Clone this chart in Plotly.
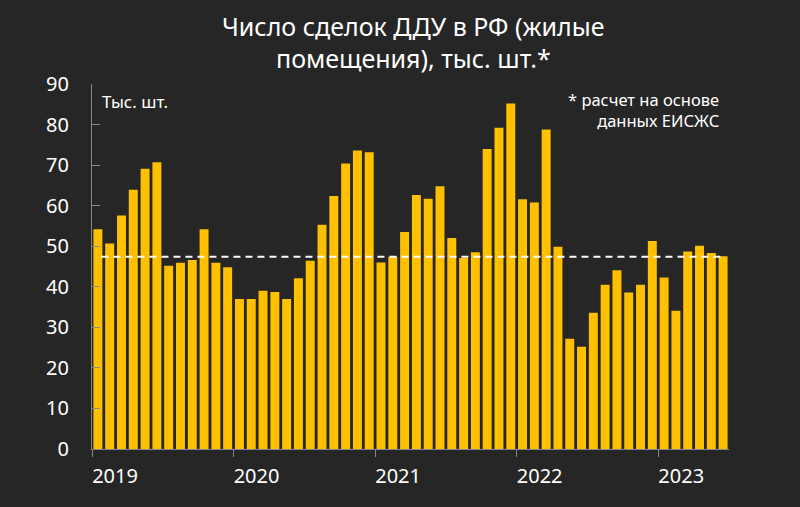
import plotly.graph_objects as go

months = list(range(54))
values = [54.2, 50.7, 57.6, 63.9, 69.1, 70.7, 45.2, 45.9, 46.6, 54.2, 45.9, 44.8,
          37.0, 37.0, 39.0, 38.7, 37.0, 42.1, 46.4, 55.3, 62.4, 70.4, 73.6, 73.2,
          46.0, 47.4, 53.5, 62.6, 61.7, 64.8, 52.0, 47.1, 48.5, 74.0, 79.2, 85.2,
          61.6, 60.8, 78.8, 49.9, 27.2, 25.2, 33.6, 40.5, 44.1, 38.6, 40.5, 51.3,
          42.3, 34.1, 48.7, 50.1, 48.3, 47.5]
average = 47.4
year_ticks = [-0.5, 11.5, 23.5, 35.5, 47.5]
year_labels = ["2019", "2020", "2021", "2022", "2023"]
y_ticks = [0, 10, 20, 30, 40, 50, 60, 70, 80, 90]
title_lines = ["Число сделок ДДУ в РФ (жилые", "помещения), тыс. шт.*"]

FONT = "Noto Sans"
BG = "#262626"

fig = go.Figure()
fig.add_trace(go.Bar(x=months, y=values, marker_color="#FFC000",
                     marker_line_width=0, width=0.76))
fig.add_trace(go.Scatter(x=[months[0] + 0.3, months[-1]], y=[average, average],
                         mode="lines",
                         line=dict(color="white", width=2, dash="7px,5px")))

annotations = [
    dict(text=title_lines[0], x=0.504, y=1.159, xref="paper", yref="paper",
         xanchor="center", yanchor="middle", showarrow=False,
         font=dict(size=25, color="white", family=FONT)),
    dict(text=title_lines[1], x=0.504, y=1.071, xref="paper", yref="paper",
         xanchor="center", yanchor="middle", showarrow=False,
         font=dict(size=25, color="white", family=FONT)),
    dict(text="Тыс. шт.", x=0.012, y=0.99, xref="paper", yref="paper",
         xanchor="left", yanchor="top", showarrow=False,
         font=dict(size=17, color="white", family=FONT)),
    dict(text="* расчет на основе<br>данных ЕИСЖС", x=0.988, y=0.995,
         xref="paper", yref="paper", xanchor="right", yanchor="top",
         align="right", showarrow=False,
         font=dict(size=16.5, color="white", family=FONT)),
]

fig.update_layout(
    width=800, height=507,
    paper_bgcolor=BG, plot_bgcolor=BG,
    margin=dict(l=92, r=71, t=84, b=58),
    showlegend=False,
    font=dict(family=FONT, color="white", size=20),
    xaxis=dict(range=[-0.5, 53.5], tickmode="array", tickvals=year_ticks,
               ticktext=year_labels, ticks="outside", ticklen=7,
               tickcolor="#888888", showline=True, linecolor="#888888",
               linewidth=1, showgrid=False, zeroline=False,
               ticklabelshift=23, ticklabelstandoff=2,
               tickfont=dict(size=20, color="white", family=FONT)),
    yaxis=dict(range=[0, 90], tickmode="array", tickvals=y_ticks,
               ticks="inside", ticklen=8, tickcolor="#888888",
               showline=True, linecolor="#888888", linewidth=1,
               showgrid=False, zeroline=False, ticklabelstandoff=18,
               tickfont=dict(size=20, color="white", family=FONT)),
    annotations=annotations,
)

fig.write_html("out.html")
